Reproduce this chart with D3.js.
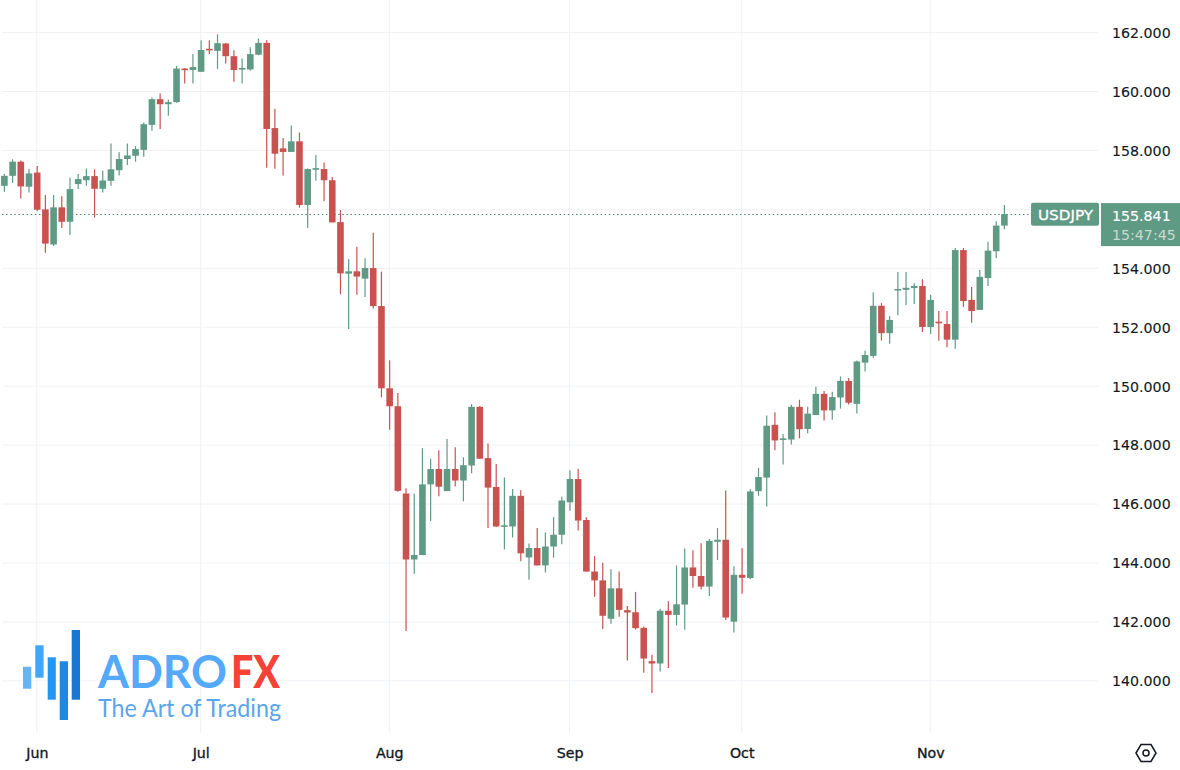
<!DOCTYPE html>
<html><head><meta charset="utf-8">
<script src="https://cdn.jsdelivr.net/npm/d3@7/dist/d3.min.js"></script>
<style>html,body{margin:0;padding:0;background:#fff;overflow:hidden}svg{display:block}</style>
</head><body><svg id="c" width="1180" height="770"></svg>
<script>
const opens=[156.80,157.14,157.62,156.77,157.25,156.00,154.81,156.07,155.58,156.86,
156.99,157.13,156.70,156.97,157.33,157.71,157.82,158.02,158.87,159.74,
159.57,159.64,160.78,160.73,160.67,161.45,161.38,161.63,161.20,160.76,
160.75,161.25,161.65,158.76,158.07,157.95,158.31,156.15,157.37,157.37,
156.99,155.57,153.82,153.90,153.65,154.01,152.72,149.93,149.32,146.36,
144.12,144.27,146.67,147.19,146.44,147.19,146.80,147.31,149.30,147.56,
146.58,145.24,145.24,146.28,144.19,144.51,143.92,144.56,144.96,146.06,
146.85,145.46,143.71,143.41,142.11,143.14,142.40,142.33,141.80,140.67,
140.59,142.38,142.24,142.59,143.85,143.56,143.20,144.72,144.79,142.01,
143.60,143.49,146.44,146.90,148.69,148.19,148.19,149.30,148.55,149.02,
149.74,149.18,149.62,150.18,149.40,150.80,151.03,152.73,151.80,153.27,
153.27,153.33,153.40,152.01,152.19,152.11,151.58,154.62,152.93,152.59,
153.67,154.58,155.45];
const highs=[157.20,157.70,157.66,157.37,157.47,156.49,156.49,156.45,157.08,157.20,
157.39,157.36,157.31,158.24,157.94,158.24,158.15,158.95,159.80,159.93,
159.73,160.87,160.80,161.27,161.74,161.74,161.94,161.65,161.40,161.12,
161.50,161.80,161.74,159.42,158.42,158.85,158.61,157.39,157.85,157.59,
157.10,155.98,154.32,154.73,154.34,155.21,153.89,150.88,149.77,146.54,
146.35,147.90,147.54,147.83,148.21,147.93,147.59,149.40,149.33,148.06,
147.36,146.90,146.51,146.47,144.66,145.19,145.04,145.56,146.25,147.15,
147.20,145.55,144.23,144.01,143.79,143.71,142.54,143.02,141.85,140.89,
142.45,142.70,143.92,144.49,144.43,144.67,144.82,145.19,146.46,143.89,
144.50,146.50,147.23,149.01,149.12,148.38,149.37,149.54,149.30,149.98,
149.84,149.81,150.33,150.28,150.87,151.20,153.19,152.82,152.38,153.88,
153.88,153.49,153.63,153.10,152.55,152.55,154.69,154.69,153.37,153.94,
154.90,155.60,156.15];
const lows=[156.60,156.90,156.37,156.57,155.95,154.53,154.76,155.37,155.13,156.69,
156.80,155.72,156.57,156.80,157.15,157.51,157.62,157.79,158.67,158.73,
159.18,159.62,160.27,160.27,160.67,161.27,160.77,160.95,160.33,160.27,
160.71,161.23,157.41,157.38,157.15,157.95,156.06,155.37,156.97,156.28,
155.56,153.12,151.94,153.10,153.03,152.64,149.62,148.52,146.42,141.69,
143.64,144.27,145.43,146.27,146.44,146.60,146.09,147.05,147.54,145.19,
145.22,144.46,144.87,144.06,143.43,143.92,143.68,144.18,144.64,145.77,
145.10,143.71,142.85,141.76,141.94,142.18,140.69,141.74,140.28,139.59,
140.32,140.44,141.88,141.74,143.16,143.10,142.88,144.10,142.07,141.64,
142.96,143.45,146.28,145.92,147.83,147.34,148.02,148.23,148.40,149.02,
148.84,148.86,149.24,149.38,149.07,150.50,150.97,151.55,151.44,152.41,
152.76,152.79,151.84,151.77,151.54,151.32,151.27,152.69,152.15,152.59,
153.40,154.34,155.33];
const closes=[157.14,157.62,156.78,157.22,155.99,154.84,156.07,155.58,156.69,157.03,
157.13,156.70,156.98,157.36,157.71,157.83,158.05,158.89,159.74,159.57,
159.64,160.78,160.73,160.83,161.41,161.40,161.64,161.20,160.73,160.80,
161.27,161.65,158.73,157.89,157.95,158.31,156.15,157.37,157.40,156.99,
155.56,153.83,153.90,153.72,154.01,152.72,149.93,149.32,146.45,144.12,
144.27,146.67,147.19,146.59,147.19,146.80,147.32,149.30,147.54,146.56,
145.24,145.28,146.28,144.33,144.51,143.92,144.56,144.96,146.12,146.85,
145.44,143.71,143.41,142.21,143.14,142.41,142.32,141.79,140.76,140.59,
142.38,142.24,142.60,143.85,143.56,143.20,144.75,144.79,142.15,143.60,
143.50,146.43,146.92,148.66,148.16,148.23,149.30,148.54,149.07,149.74,
149.18,149.63,150.18,149.44,150.84,151.06,152.73,151.80,152.25,153.30,
153.34,153.40,152.01,152.93,152.16,151.58,154.62,152.89,152.55,153.71,
154.60,155.45,155.841];
const gridTicks=[140,142,144,146,148,150,152,154,156,158,160,162];
const labelTicks=[140,142,144,146,148,150,152,154,158,160,162];
const monthLabels=["Jun","Jul","Aug","Sep","Oct","Nov"];
const monthIndex=[4,24,47,69,90,113];
const symbol="USDJPY";
const lastPrice=155.841;
const countdown="15:47:45";

const UP="#5f9a85",DOWN="#c8524f",GRID="#eff1f5",TEXT="#131722";
const FONT="'DejaVu Sans', sans-serif";
const svg=d3.select("#c");
const x=d3.scaleLinear().domain([0,opens.length-1]).range([4.4,1004.4]);
const y=d3.scaleLinear().domain([140,162]).range([680.9,32.6]);

// grid
svg.append("g").selectAll("line").data(gridTicks).join("line")
 .attr("x1",2).attr("x2",1098).attr("y1",d=>y(d)).attr("y2",d=>y(d))
 .attr("stroke",GRID).attr("stroke-width",1);
svg.append("g").selectAll("line").data(monthIndex).join("line")
 .attr("x1",d=>x(d)-0.4).attr("x2",d=>x(d)-0.4).attr("y1",0).attr("y2",733)
 .attr("stroke",GRID).attr("stroke-width",1);

// logo (under candles)
const logo=svg.append("g");
[[23,666.7,8.3,22,"#64b5f6"],[35.3,645.3,8.3,32.4,"#42a5f5"],[47.7,657.3,8.1,42.4,"#2196f3"],
 [59.7,661.3,8.3,58.7,"#1e88e5"],[71.7,630,8.3,69.7,"#1976d2"]].forEach(b=>
 logo.append("rect").attr("x",b[0]).attr("y",b[1]).attr("width",b[2]).attr("height",b[3]).attr("fill",b[4]));
logo.append("text").text("ADRO").attr("x",98).attr("y",688.3).attr("font-family","Lato, sans-serif").attr("font-weight",700)
 .attr("font-size",46).attr("fill","#55a9fb").attr("textLength",129).attr("lengthAdjust","spacingAndGlyphs");
logo.append("text").text("FX").attr("x",231).attr("y",688.3).attr("font-family","Lato, sans-serif").attr("font-weight",900)
 .attr("font-size",46).attr("fill","#f44336").attr("textLength",49).attr("lengthAdjust","spacingAndGlyphs");
logo.append("text").text("The Art of Trading").attr("x",98).attr("y",717).attr("font-family","Lato, sans-serif").attr("font-weight",400)
 .attr("font-size",24.5).attr("fill","#5aa5ec").attr("textLength",183).attr("lengthAdjust","spacingAndGlyphs");

// last price dotted line
const ly=y(lastPrice);
svg.append("line").attr("x1",2).attr("x2",1030).attr("y1",Math.floor(ly)+0.5).attr("y2",Math.floor(ly)+0.5)
 .attr("stroke","#4a8a74").attr("stroke-width",1).attr("stroke-dasharray","1.5 2.6");

// candles
const idx=d3.range(opens.length);
const col=i=>closes[i]>=opens[i]?UP:DOWN;
svg.append("g").selectAll("line").data(idx).join("line")
 .attr("x1",i=>x(i)).attr("x2",i=>x(i)).attr("y1",i=>y(highs[i])).attr("y2",i=>y(lows[i]))
 .attr("stroke",col).attr("stroke-width",1.2);
svg.append("g").selectAll("rect").data(idx).join("rect")
 .attr("x",i=>x(i)-3.3).attr("width",6.6)
 .attr("y",i=>y(Math.max(opens[i],closes[i])))
 .attr("height",i=>Math.max(1.6,Math.abs(y(opens[i])-y(closes[i]))))
 .attr("fill",col);

// price axis
const ya=svg.append("g").attr("transform","translate(1112,0)")
 .call(d3.axisRight(y).tickValues(labelTicks).tickFormat(d3.format(".3f")).tickSize(0).tickPadding(0));
ya.select(".domain").remove();
ya.selectAll("text").attr("font-family",FONT).attr("font-size",14.2).attr("fill",TEXT).attr("dy","0.34em")
 .attr("stroke",TEXT).attr("stroke-width",0.12);

// time axis
const xa=svg.append("g").attr("transform","translate(-0.4,748)")
 .call(d3.axisBottom(x).tickValues(monthIndex).tickFormat((d,i)=>monthLabels[i]).tickSize(0).tickPadding(0));
xa.select(".domain").remove();
xa.selectAll("text").attr("font-family",FONT).attr("font-size",14.2).attr("fill",TEXT)
 .attr("stroke",TEXT).attr("stroke-width",0.35);

// last price labels
svg.append("rect").attr("x",1031).attr("y",ly-11.3).attr("width",68).attr("height",23).attr("rx",2).attr("fill",UP);
svg.append("text").text(symbol).attr("x",1038).attr("y",ly+6).attr("font-family",FONT)
 .attr("font-size",14.2).attr("fill","#fff").attr("stroke","#fff").attr("stroke-width",0.3)
 .attr("textLength",55).attr("lengthAdjust","spacingAndGlyphs");
svg.append("rect").attr("x",1101).attr("y",ly-11).attr("width",79).attr("height",43).attr("fill",UP);
svg.append("text").text(d3.format(".3f")(lastPrice)).attr("x",1112).attr("y",ly+7).attr("font-family",FONT)
 .attr("font-size",14.2).attr("fill","#fff").attr("stroke","#fff").attr("stroke-width",0.15);
svg.append("text").text(countdown).attr("x",1112).attr("y",ly+26).attr("font-family",FONT)
 .attr("font-size",14.2).attr("fill","#c5dcd3");

// settings icon
const g=svg.append("g").attr("transform","translate(1146,753)");
g.append("path").attr("d","M-10,0L-5,-8.5L5,-8.5L10,0L5,8.5L-5,8.5Z").attr("fill","none").attr("stroke",TEXT).attr("stroke-width",1.5);
g.append("circle").attr("r",3).attr("fill","none").attr("stroke",TEXT).attr("stroke-width",1.5);
</script></body></html>
